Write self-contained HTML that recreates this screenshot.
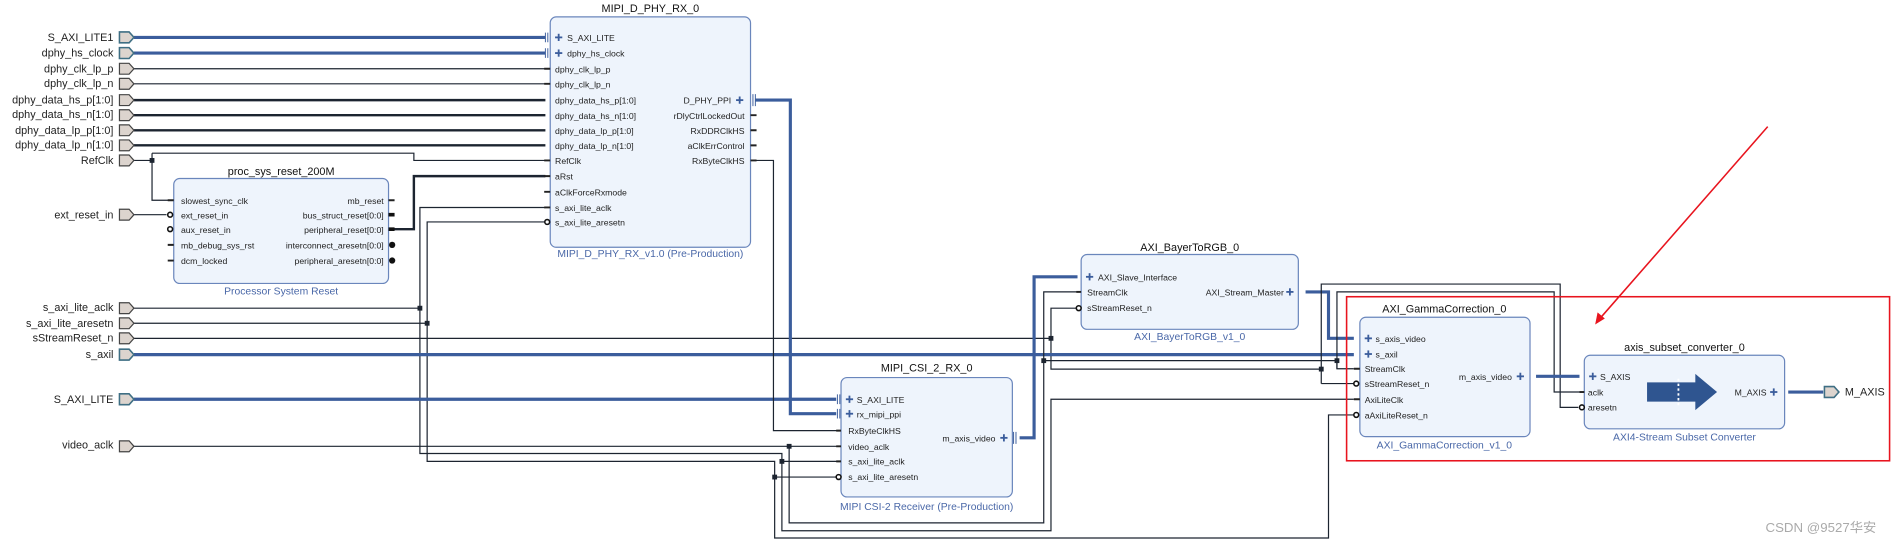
<!DOCTYPE html>
<html><head><meta charset="utf-8"><style>
html,body{margin:0;padding:0;background:#fff;}
svg{display:block}
text{font-family:"Liberation Sans",Arial,sans-serif;}
.p{font-size:7.2px;fill:#222}
.l{font-size:9px;fill:#222}
.t{font-size:9px;fill:#111}
.s{font-size:8.6px;fill:#4a68a8}
.b{fill:#eef4fc;stroke:#6a86bc;stroke-width:1}
.w{stroke:#1c2430;stroke-width:1;fill:none}
.w2{stroke:#1c2430;stroke-width:2;fill:none}
.bw{stroke:#3b5d9c;stroke-width:2.6;fill:none}
.port{fill:#dcd4ce;stroke:#444;stroke-width:1}
.bport{fill:#dcd4ce;stroke:#3f6f84;stroke-width:1.3}
.tk{stroke:#222;stroke-width:1.6}
.j{fill:#1c2430}
.pl{stroke:#3b5d9c;stroke-width:1.5}
</style></head><body>
<svg width="1892" height="544" viewBox="0 0 1568 451" preserveAspectRatio="none" xmlns="http://www.w3.org/2000/svg">
<defs>
<g id="port"><path class="port" d="M0,-4.5 H8 L12,0 L8,4.5 H0 Z"/></g>
<g id="bport"><path class="bport" d="M0,-4.5 H8 L12,0 L8,4.5 H0 Z"/></g>
<g id="plus"><line class="pl" x1="-3" y1="0" x2="3" y2="0"/><line class="pl" x1="0" y1="-3" x2="0" y2="3"/></g>
</defs>

<!-- Left ports labels -->
<g text-anchor="end" class="l">
<text x="94" y="34" class="l">S_AXI_LITE1</text>
<text x="94" y="47" class="l">dphy_hs_clock</text>
<text x="94" y="60" class="l">dphy_clk_lp_p</text>
<text x="94" y="72" class="l">dphy_clk_lp_n</text>
<text x="94" y="86" class="l">dphy_data_hs_p[1:0]</text>
<text x="94" y="98" class="l">dphy_data_hs_n[1:0]</text>
<text x="94" y="111" class="l">dphy_data_lp_p[1:0]</text>
<text x="94" y="123" class="l">dphy_data_lp_n[1:0]</text>
<text x="94" y="136" class="l">RefClk</text>
<text x="94" y="181" class="l">ext_reset_in</text>
<text x="94" y="258" class="l">s_axi_lite_aclk</text>
<text x="94" y="271" class="l">s_axi_lite_aresetn</text>
<text x="94" y="283" class="l">sStreamReset_n</text>
<text x="94" y="297" class="l">s_axil</text>
<text x="94" y="334" class="l">S_AXI_LITE</text>
<text x="94" y="372" class="l">video_aclk</text>
</g>

<!-- wires -->
<line class="bw" x1="111" y1="31" x2="452" y2="31"/>
<line class="bw" x1="111" y1="44" x2="452" y2="44"/>
<line class="w" x1="111" y1="57" x2="452" y2="57"/>
<line class="w" x1="111" y1="69.5" x2="452" y2="69.5"/>
<line class="w2" x1="111" y1="83" x2="452" y2="83"/>
<line class="w2" x1="111" y1="95.5" x2="452" y2="95.5"/>
<line class="w2" x1="111" y1="108" x2="452" y2="108"/>
<line class="w2" x1="111" y1="120.5" x2="452" y2="120.5"/>
<polyline class="w" points="111,133 126,133"/>
<polyline class="w" points="126,127 126,166 140,166"/>
<polyline class="w" points="126,127 343,127 343,133 452,133"/>
<rect class="j" x="124" y="131" width="4" height="4"/>
<line class="w" x1="111" y1="178" x2="138" y2="178"/>
<polyline class="w2" points="326,190 343,190 343,146 452,146"/>
<polyline class="w" points="452,172 348,172 348,376 648,376 648,440 871,440 871,331 1122,331"/>
<polyline class="w" points="452,184 354,184 354,382.5 642,382.5 642,446 1101,446 1101,344 1122,344"/>
<line class="w" x1="111" y1="255.5" x2="348" y2="255.5"/><rect class="j" x="346" y="253.5" width="4" height="4"/>
<line class="w" x1="111" y1="268" x2="354" y2="268"/><rect class="j" x="352" y="266" width="4" height="4"/>
<line class="w" x1="111" y1="280.5" x2="871" y2="280.5"/><rect class="j" x="869" y="278.5" width="4" height="4"/>
<polyline class="w" points="893,255.5 871,255.5 871,306 1095,306"/>
<line class="bw" x1="111" y1="294" x2="1122" y2="294"/>
<line class="bw" x1="111" y1="331" x2="693" y2="331"/>
<line class="w" x1="111" y1="370" x2="697" y2="370"/>
<polyline class="w" points="654,370 654,433.5 865,433.5 865,242 893,242"/>
<rect class="j" x="652" y="368" width="4" height="4"/>
<polyline class="w" points="865,299 1108,299"/><rect class="j" x="863" y="297" width="4" height="4"/>
<line class="w" x1="648" y1="382.5" x2="697" y2="382.5"/><rect class="j" x="646" y="380.5" width="4" height="4"/>
<line class="w" x1="642" y1="395.5" x2="695" y2="395.5"/><rect class="j" x="640" y="393.5" width="4" height="4"/>
<polyline class="w" points="626,133 641,133 641,357 697,357"/>
<polyline class="bw" points="626,83 655,83 655,343 693,343"/>
<polyline class="bw" points="845,363 857,363 857,229.5 893,229.5"/>
<polyline class="bw" points="1082,242 1101,242 1101,280.5 1122,280.5"/>
<polyline class="w" points="1108,305.7 1108,242 1288,242 1288,325 1309,325"/>
<polyline class="w" points="1108,299 1108,305.7 1122,305.7"/><rect class="j" x="1106" y="297" width="4" height="4"/>
<polyline class="w" points="1095,318 1095,235.5 1293,235.5 1293,337.7 1308,337.7"/>
<line class="w" x1="1095" y1="318" x2="1122" y2="318"/><rect class="j" x="1093" y="304" width="4" height="4"/>
<line class="bw" x1="1273" y1="312" x2="1309" y2="312"/>
<line class="bw" x1="1482" y1="325" x2="1511" y2="325"/>

<!-- left port shapes -->
<use href="#bport" x="99" y="31"/><use href="#bport" x="99" y="44"/>
<use href="#port" x="99" y="57"/><use href="#port" x="99" y="69.5"/>
<use href="#port" x="99" y="83"/><use href="#port" x="99" y="95.5"/>
<use href="#port" x="99" y="108"/><use href="#port" x="99" y="120.5"/>
<use href="#port" x="99" y="133"/><use href="#port" x="99" y="178"/>
<use href="#port" x="99" y="255.5"/><use href="#port" x="99" y="268"/>
<use href="#port" x="99" y="280.5"/><use href="#bport" x="99" y="294"/>
<use href="#bport" x="99" y="331"/><use href="#port" x="99" y="370"/>

<!-- MIPI_D_PHY_RX_0 -->
<text x="539" y="10" class="t" text-anchor="middle">MIPI_D_PHY_RX_0</text>
<rect class="b" x="456" y="14" width="166" height="191" rx="5"/>
<text x="539" y="213" class="s" text-anchor="middle">MIPI_D_PHY_RX_v1.0 (Pre-Production)</text>
<g class="p">
<use href="#plus" x="463" y="31"/><text x="470" y="34">S_AXI_LITE</text>
<use href="#plus" x="463" y="44"/><text x="470" y="47">dphy_hs_clock</text>
<text x="460" y="60">dphy_clk_lp_p</text><text x="460" y="72.5">dphy_clk_lp_n</text>
<text x="460" y="86">dphy_data_hs_p[1:0]</text><text x="460" y="98.5">dphy_data_hs_n[1:0]</text>
<text x="460" y="111">dphy_data_lp_p[1:0]</text><text x="460" y="123.5">dphy_data_lp_n[1:0]</text>
<text x="460" y="136">RefClk</text><text x="460" y="149">aRst</text>
<text x="460" y="162">aClkForceRxmode</text><text x="460" y="175">s_axi_lite_aclk</text>
<text x="460" y="187">s_axi_lite_aresetn</text>
<g text-anchor="end"><text x="606" y="86">D_PHY_PPI</text><text x="617" y="98.5">rDlyCtrlLockedOut</text>
<text x="617" y="111">RxDDRClkHS</text><text x="617" y="123.5">aClkErrControl</text><text x="617" y="136">RxByteClkHS</text></g>
</g>
<use href="#plus" x="613" y="83"/>
<path d="M451,57h5M451,69.5h5M451,133h5M451,146h5M451,159h5M451,172h5M622,95.5h5M622,108h5M622,120.5h5M622,133h5" class="tk"/>
<circle cx="453.5" cy="184" r="2" fill="#fff" stroke="#111" stroke-width="1.3"/>
<path d="M452,27v8M454,27v8M452,40v8M454,40v8M624,78v10M626,78v10" stroke="#3b5d9c" stroke-width="0.8"/>

<!-- proc_sys_reset -->
<text x="233" y="145" class="t" text-anchor="middle">proc_sys_reset_200M</text>
<rect class="b" x="144" y="148" width="178" height="87" rx="5"/>
<text x="233" y="244" class="s" text-anchor="middle">Processor System Reset</text>
<g class="p">
<text x="150" y="169">slowest_sync_clk</text><text x="150" y="181">ext_reset_in</text>
<text x="150" y="193">aux_reset_in</text><text x="150" y="206">mb_debug_sys_rst</text><text x="150" y="219">dcm_locked</text>
<g text-anchor="end"><text x="318" y="169">mb_reset</text><text x="318" y="181">bus_struct_reset[0:0]</text>
<text x="318" y="193">peripheral_reset[0:0]</text><text x="318" y="206">interconnect_aresetn[0:0]</text><text x="318" y="219">peripheral_aresetn[0:0]</text></g>
</g>
<path d="M139,166h5M139,203h5M139,216h5M322,166h5" class="tk"/>
<path d="M322,178h5M322,190h5" stroke="#111" stroke-width="3"/>
<circle cx="141" cy="178" r="2" fill="#fff" stroke="#111" stroke-width="1.3"/>
<circle cx="141" cy="190" r="2" fill="#fff" stroke="#111" stroke-width="1.3"/>
<circle cx="325" cy="203" r="2.6" fill="#111"/><circle cx="325" cy="216" r="2.6" fill="#111"/>

<!-- MIPI_CSI_2_RX_0 -->
<text x="768" y="308" class="t" text-anchor="middle">MIPI_CSI_2_RX_0</text>
<rect class="b" x="697" y="313" width="142" height="99" rx="5"/>
<text x="768" y="423" class="s" text-anchor="middle">MIPI CSI-2 Receiver (Pre-Production)</text>
<g class="p">
<use href="#plus" x="704" y="331"/><text x="710" y="334">S_AXI_LITE</text>
<use href="#plus" x="704" y="343"/><text x="710" y="346">rx_mipi_ppi</text>
<text x="703" y="360">RxByteClkHS</text><text x="703" y="373">video_aclk</text>
<text x="703" y="385">s_axi_lite_aclk</text><text x="703" y="398">s_axi_lite_aresetn</text>
<text x="825" y="366" text-anchor="end">m_axis_video</text>
</g>
<use href="#plus" x="832" y="363"/>
<path d="M693,357h4M693,370h4M693,382.5h4" class="tk"/>
<circle cx="695" cy="395.5" r="2" fill="#fff" stroke="#111" stroke-width="1.3"/>
<path d="M694,327v8M696,327v8M694,339v8M696,339v8M840,358v10M842,358v10" stroke="#3b5d9c" stroke-width="0.8"/>

<!-- AXI_BayerToRGB_0 -->
<text x="986" y="208" class="t" text-anchor="middle">AXI_BayerToRGB_0</text>
<rect class="b" x="896" y="211" width="180" height="62" rx="5"/>
<text x="986" y="282" class="s" text-anchor="middle">AXI_BayerToRGB_v1_0</text>
<g class="p">
<use href="#plus" x="903" y="229.5"/><text x="910" y="232.5">AXI_Slave_Interface</text>
<text x="901" y="245">StreamClk</text><text x="901" y="258">sStreamReset_n</text>
<text x="1064" y="245" text-anchor="end">AXI_Stream_Master</text>
</g>
<use href="#plus" x="1069" y="242"/>
<path d="M892,242h4" class="tk"/>
<circle cx="894" cy="255.5" r="2" fill="#fff" stroke="#111" stroke-width="1.3"/>

<!-- Red box -->
<rect x="1116" y="246" width="450" height="136" fill="none" stroke="#e8141e" stroke-width="1.3"/>
<line x1="1465" y1="105" x2="1326" y2="264" stroke="#e8141e" stroke-width="1.3"/>
<path d="M1322,269 L1324,259 L1330,264 Z" fill="#e8141e"/>

<!-- AXI_GammaCorrection_0 -->
<text x="1197" y="259" class="t" text-anchor="middle">AXI_GammaCorrection_0</text>
<rect class="b" x="1127" y="263" width="141" height="99" rx="5"/>
<text x="1197" y="372" class="s" text-anchor="middle">AXI_GammaCorrection_v1_0</text>
<g class="p">
<use href="#plus" x="1134" y="280.5"/><text x="1140" y="283.5">s_axis_video</text>
<use href="#plus" x="1134" y="293.5"/><text x="1140" y="296.5">s_axil</text>
<text x="1131" y="308.5">StreamClk</text><text x="1131" y="321">sStreamReset_n</text>
<text x="1131" y="334">AxiLiteClk</text><text x="1131" y="347">aAxiLiteReset_n</text>
<text x="1253" y="315" text-anchor="end">m_axis_video</text>
</g>
<use href="#plus" x="1260" y="312"/>
<path d="M1122,305.7h5M1122,331h5" class="tk"/>
<circle cx="1124" cy="318" r="2" fill="#fff" stroke="#111" stroke-width="1.3"/>
<circle cx="1124" cy="344" r="2" fill="#fff" stroke="#111" stroke-width="1.3"/>

<!-- axis_subset_converter_0 -->
<text x="1396" y="291" class="t" text-anchor="middle">axis_subset_converter_0</text>
<rect class="b" x="1313" y="294.5" width="166" height="61" rx="5"/>
<text x="1396" y="365" class="s" text-anchor="middle">AXI4-Stream Subset Converter</text>
<g class="p">
<use href="#plus" x="1320" y="312"/><text x="1326" y="315">S_AXIS</text>
<text x="1316" y="328">aclk</text><text x="1316" y="340.5">aresetn</text>
<text x="1464" y="328" text-anchor="end">M_AXIS</text>
</g>
<use href="#plus" x="1470" y="325"/>
<path d="M1365,317 H1405 V310 L1423,325 L1405,340 V333 H1365 Z" fill="#2f5590"/>
<path d="M1391,314v24" stroke="#fff" stroke-width="1.5" stroke-dasharray="2,2"/>
<path d="M1309,325h4" class="tk"/>
<circle cx="1311" cy="337.7" r="2" fill="#fff" stroke="#111" stroke-width="1.3"/>
<use href="#bport" x="1512" y="325"/>
<text x="1529" y="328" class="l">M_AXIS</text>

<text x="1555" y="441" text-anchor="end" font-size="11" fill="#aaa" font-family="Liberation Sans,Noto Sans CJK SC,sans-serif">CSDN @9527华安</text>
</svg>
</body></html>
